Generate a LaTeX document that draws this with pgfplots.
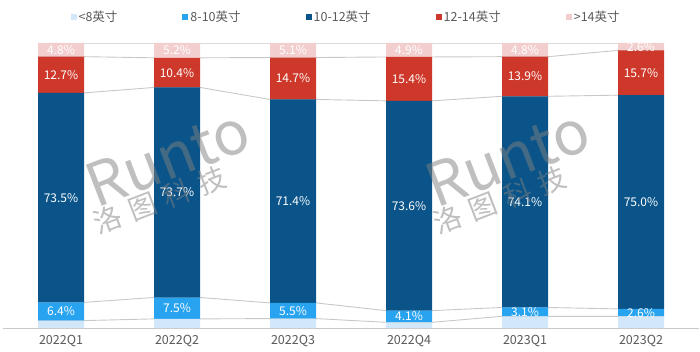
\documentclass[border=0pt]{standalone}
\usepackage{fontspec}
\setmainfont{Noto Sans CJK SC}
\usepackage{pgfplots}
\usepackage{pgfplotstable}
\usetikzlibrary{calc}
\pgfplotsset{compat=1.18}
\definecolor{cA}{RGB}{210,232,250}
\definecolor{cB}{RGB}{40,163,240}
\definecolor{cC}{RGB}{10,84,138}
\definecolor{cD}{RGB}{206,56,42}
\definecolor{cE}{RGB}{243,206,206}
\definecolor{txtgray}{RGB}{89,89,89}
\definecolor{linegray}{RGB}{200,200,200}

\pgfplotstableread{
x c1 c2 c3 c4 c5
-0.2 2.6 9.0 82.5 95.2 100
0.2 2.6 9.0 82.5 95.2 100
0.8 3.2 10.7 84.4 94.8 100
1.2 3.2 10.7 84.4 94.8 100
1.8 3.3 8.8 80.2 94.9 100
2.2 3.3 8.8 80.2 94.9 100
2.8 2.0 6.1 79.7 95.1 100
3.2 2.0 6.1 79.7 95.1 100
3.8 4.1 7.2 81.3 95.2 100
4.2 4.1 7.2 81.3 95.2 100
4.8 4.1 6.7 81.7 97.4 100
5.2 4.1 6.7 81.7 97.4 100
}\edges

\pgfplotstableread{
x y lab
0 97.6 4.8
1 97.4 5.2
2 97.45 5.1
3 97.55 4.9
4 97.6 4.8
5 98.7 2.6
0 88.85 12.7
1 89.6 10.4
2 87.55 14.7
3 87.4 15.4
4 88.25 13.9
5 89.6 15.7
0 45.75 73.5
1 47.55 73.7
2 44.5 71.4
3 42.9 73.6
4 44.25 74.1
5 44.2 75.0
0 5.8 6.4
1 6.95 7.5
2 6.05 5.5
3 4.05 4.1
4 5.65 3.1
5 5.4 2.6
}\labels

\pgfplotsset{base/.style={at={(0pt,0pt)}, anchor=south west, scale only axis,
  width=696pt, height=285pt, xmin=-0.5, xmax=5.5, ymin=0, ymax=100, clip=false}}

\begin{document}
\begin{tikzpicture}
% connecting lines (under the bars)
\begin{axis}[base, axis lines=none, xtick=\empty, ytick=\empty]
\foreach \c in {c1,c2,c3,c4,c5}{
  \addplot[draw=linegray, line width=0.9pt] table[x=x, y=\c] {\edges};
}
\end{axis}
% stacked bars
\begin{axis}[base, ybar stacked, bar width=46pt,
  axis x line=bottom, axis y line=none,
  x axis line style={draw=linegray, line width=0.9pt, -},
  xtick={0,1,2,3,4,5},
  xticklabels={2022Q1,2022Q2,2022Q3,2022Q4,2023Q1,2023Q2},
  xtick style={draw=none}, ytick=\empty,
  xticklabel style={text=txtgray, font=\fontsize{12.5}{14}\selectfont, yshift=-1.5pt},
  legend style={at={(0.493,1)}, anchor=center, yshift=26pt, draw=none, fill=none,
    legend columns=5, font=\fontsize{12.5}{14}\selectfont, text=txtgray,
    /tikz/every even column/.append style={column sep=63pt}},
  legend image code/.code={\fill[#1,draw=none] (0pt,-3pt) rectangle (6pt,3pt);},
]
\addplot[fill=cA, draw=none] coordinates {(0,2.6) (1,3.2) (2,3.3) (3,2.0) (4,4.1) (5,4.1)};
\addplot[fill=cB, draw=none] coordinates {(0,6.4) (1,7.5) (2,5.5) (3,4.1) (4,3.1) (5,2.6)};
\addplot[fill=cC, draw=none] coordinates {(0,73.5) (1,73.7) (2,71.4) (3,73.6) (4,74.1) (5,75.0)};
\addplot[fill=cD, draw=none] coordinates {(0,12.7) (1,10.4) (2,14.7) (3,15.4) (4,13.9) (5,15.7)};
\addplot[fill=cE, draw=none] coordinates {(0,4.8) (1,5.2) (2,5.1) (3,4.9) (4,4.8) (5,2.6)};
\legend{<8英寸, 8-10英寸, 10-12英寸, 12-14英寸, >14英寸}
\end{axis}
% value labels
\begin{axis}[base, axis lines=none, xtick=\empty, ytick=\empty]
\addplot[only marks, mark=none, point meta=explicit symbolic,
  nodes near coords={\pgfplotspointmeta\%},
  every node near coord/.append style={anchor=center, text=white,
    font=\fontsize{12}{12}\selectfont, inner sep=0pt}]
  table[x=x, y=y, meta=lab] {\labels};
\end{axis}
% watermark
\foreach \dx in {0pt,340pt}{
  \node[rotate=21, text=gray, opacity=0.5, font=\fontsize{60}{60}\selectfont]
    at ($(165pt,170pt)+(\dx,0)$) {Runto};
  \node[rotate=21, text=gray, opacity=0.5, font=\fontsize{28}{28}\selectfont]
    at ($(157pt,128pt)+(\dx,0)$) {洛\hspace{9pt}图\hspace{9pt}科\hspace{9pt}技};
}
\pgfresetboundingbox
\path[use as bounding box] (-3pt,-23pt) rectangle (697pt,328pt);
\end{tikzpicture}
\end{document}
